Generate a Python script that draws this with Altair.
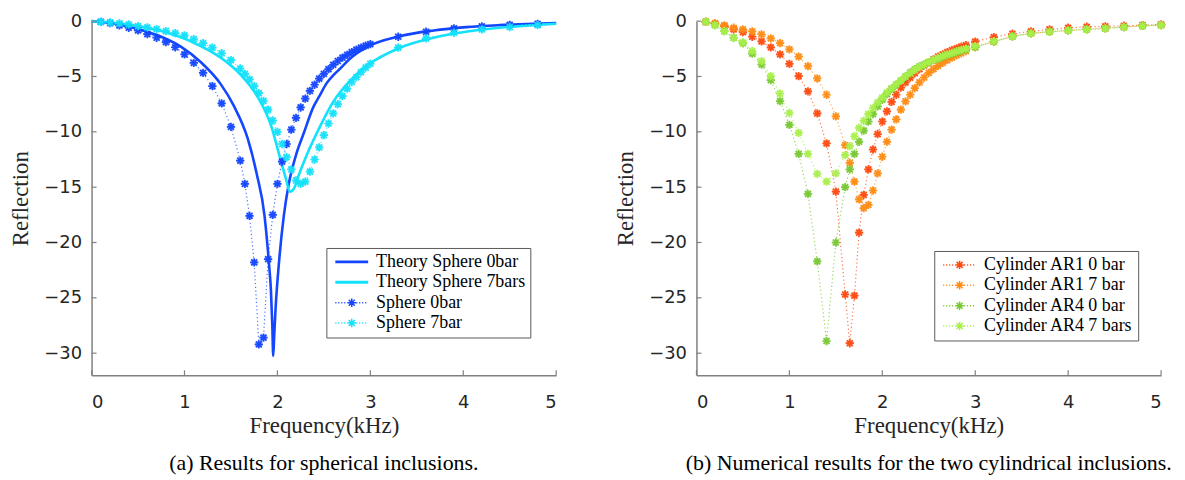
import altair as alt
import pandas as pd
import numpy as np

# ---------------- Left panel data (spherical inclusions) ----------------
theory0_f = [0.0, 0.25, 0.5, 0.75, 0.96, 1.18, 1.39, 1.53, 1.68, 1.78, 1.86, 1.91, 1.93, 1.945,
             1.955, 1.965, 1.98, 2.02, 2.07, 2.12, 2.2, 2.28, 2.39, 2.45, 2.53, 2.6, 2.68, 2.78, 2.96,
             3.32, 3.68, 4.03, 4.39, 4.75, 5.0]
theory0_r = [0.0, -0.24, -0.7, -1.41, -2.3, -3.74, -5.69, -7.64, -10.6, -13.9, -17.5, -22.0, -24.3, -27.5,
             -30.25, -28.5, -26.0, -21.5, -17.5, -14.8, -12.1, -10.2, -7.7, -6.8, -5.6, -4.9, -4.25, -3.4, -2.35,
             -1.35, -0.84, -0.54, -0.36, -0.24, -0.18]

theory7_f = [0.0, 0.43, 0.75, 1.1, 1.39, 1.6, 1.78, 1.93, 2.03, 2.09, 2.134, 2.18, 2.23, 2.32,
             2.43, 2.6, 2.78, 2.96, 3.32, 3.68, 4.03, 4.39, 4.75, 5.0]
theory7_r = [0.0, -0.36, -0.9, -1.95, -3.3, -4.8, -6.74, -9.4, -12.4, -14.2, -15.4, -15.1, -13.9, -12.0,
             -10.0, -7.3, -5.4, -4.04, -2.4, -1.5, -0.96, -0.6, -0.36, -0.24]

sphere_f = [0.1, 0.2, 0.3, 0.4, 0.5, 0.6, 0.7, 0.8, 0.9, 1.0, 1.1, 1.2, 1.3, 1.4, 1.5, 1.6,
            1.65, 1.7, 1.75, 1.8, 1.85, 1.9, 1.95, 2.0, 2.05, 2.1, 2.15, 2.2, 2.25, 2.3, 2.35, 2.4,
            2.45, 2.5, 2.55, 2.6, 2.65, 2.7, 2.75, 2.8, 2.85, 2.9, 2.95, 3.0,
            3.3, 3.6, 3.9, 4.2, 4.5, 4.8]
sphere0_r = [-0.06, -0.18, -0.39, -0.6, -0.84, -1.17, -1.5, -1.89, -2.36, -3.0, -3.77, -4.67, -5.87, -7.43, -9.55, -12.6,
             -14.7, -17.6, -21.8, -29.2, -28.6, -21.5, -17.5, -14.7, -12.7, -11.1, -9.8, -8.74, -7.8, -7.0, -6.3, -5.75,
             -5.2, -4.76, -4.34, -3.95, -3.6, -3.3, -3.05, -2.8, -2.58, -2.4, -2.22, -2.08,
             -1.41, -0.96, -0.66, -0.48, -0.33, -0.24]
sphere7_r = [-0.06, -0.12, -0.21, -0.3, -0.45, -0.57, -0.72, -0.9, -1.08, -1.29, -1.62, -1.98, -2.4, -2.9, -3.53, -4.28,
             -4.76, -5.27, -5.87, -6.5, -7.2, -8.0, -8.98, -10.0, -11.1, -12.3, -13.4, -14.4, -14.7, -14.5, -13.6, -12.5,
             -11.4, -10.3, -9.25, -8.33, -7.49, -6.77, -6.1, -5.5, -5.06, -4.6, -4.2, -3.85,
             -2.4, -1.56, -1.05, -0.75, -0.54, -0.36]

left_names = ["Theory Sphere 0bar", "Theory Sphere 7bars", "Sphere 0bar", "Sphere 7bar"]
left_colors = ["#1446ff", "#14e1fa", "#1446ff", "#14e1fa"]

# ---------------- Right panel data (cylindrical inclusions) ----------------
cyl_f = [0.1, 0.2, 0.3, 0.4, 0.5, 0.6, 0.7, 0.8, 0.9, 1.0, 1.1, 1.2, 1.3, 1.4, 1.5, 1.6,
         1.65, 1.7, 1.75, 1.8, 1.85, 1.9, 1.95, 2.0, 2.05, 2.1, 2.15, 2.2, 2.25, 2.3, 2.35, 2.4,
         2.45, 2.5, 2.55, 2.6, 2.65, 2.7, 2.75, 2.8, 2.85, 2.9, 3.0,
         3.2, 3.4, 3.6, 3.8, 4.0, 4.2, 4.4, 4.6, 4.8, 5.0]
ar1_0_r = [-0.06, -0.24, -0.45, -0.75, -0.99, -1.41, -1.83, -2.37, -3.0, -3.86, -4.97, -6.35, -8.33, -11.05, -15.4, -24.7,
           -29.1, -24.8, -19.1, -15.7, -13.4, -11.6, -10.2, -9.07, -8.15, -7.3, -6.65, -6.0, -5.54, -5.1, -4.7, -4.34,
           -4.0, -3.72, -3.45, -3.2, -3.0, -2.8, -2.62, -2.46, -2.3, -2.16, -1.85,
           -1.44, -1.14, -0.93, -0.75, -0.6, -0.51, -0.48, -0.42, -0.36, -0.3]
ar1_7_r = [-0.06, -0.18, -0.38, -0.6, -0.75, -0.93, -1.2, -1.56, -1.98, -2.55, -3.2, -4.07, -5.18, -6.65, -8.6, -11.2,
           -12.8, -14.5, -16.1, -16.9, -16.6, -15.3, -13.75, -12.25, -10.9, -9.8, -8.87, -8.0, -7.25, -6.65, -6.06, -5.54,
           -5.09, -4.67, -4.34, -4.04, -3.77, -3.53, -3.3, -3.08, -2.9, -2.7, -2.34,
           -1.86, -1.38, -1.11, -0.96, -0.84, -0.72, -0.63, -0.54, -0.42, -0.36]
ar4_0_r = [-0.06, -0.36, -0.9, -1.5, -2.0, -2.93, -3.92, -5.33, -7.22, -9.37, -12.0, -15.6, -21.7, -28.9, -20.0, -15.0,
           -13.4, -12.0, -10.9, -9.9, -9.07, -8.4, -7.7, -7.1, -6.6, -6.15, -5.75, -5.4, -5.0, -4.64, -4.35, -4.1,
           -3.9, -3.7, -3.53, -3.38, -3.23, -3.08, -2.93, -2.8, -2.7, -2.55, -2.34,
           -1.86, -1.38, -1.11, -0.96, -0.84, -0.75, -0.66, -0.54, -0.42, -0.36]
ar4_7_r = [-0.06, -0.36, -0.9, -1.5, -1.92, -2.7, -3.62, -4.97, -6.56, -8.3, -10.1, -12.0, -13.8, -14.5, -13.75, -12.1,
           -11.3, -10.4, -9.64, -9.0, -8.4, -7.85, -7.35, -6.9, -6.45, -6.05, -5.7, -5.35, -5.0, -4.7, -4.42, -4.15,
           -3.92, -3.7, -3.5, -3.32, -3.15, -3.0, -2.86, -2.72, -2.6, -2.48, -2.25,
           -1.8, -1.38, -1.11, -0.96, -0.84, -0.75, -0.66, -0.54, -0.42, -0.36]

right_names = ["Cylinder AR1 0 bar", "Cylinder AR1 7 bar", "Cylinder AR4 0 bar", "Cylinder AR4 7 bars"]
right_colors = ["#ff4a0f", "#ff8c14", "#78c832", "#a8f04c"]

x_ticks = [0, 1, 2, 3, 4, 5]
y_ticks = [0, -5, -10, -15, -20, -25, -30]

# ---------------- marker / legend glyphs (styles) ----------------
ASTER = "M-1,0L1,0M0,-1L0,1M-0.72,-0.72L0.72,0.72M-0.72,0.72L0.72,-0.72"


def legend_line(dotted, star):
    # symbol unit = 5px ; line spans -1 .. 5.6 units (33px)
    x0, x1 = -1.0, 5.6
    parts = []
    if dotted:
        x = x0
        while x < x1 - 0.05:
            parts.append(f"M{x:.2f},0L{x + 0.22:.2f},0")
            x += 0.6
    else:
        parts.append(f"M{x0},-0.14L{x1},-0.14M{x0},0.14L{x1},0.14")
    if star:
        c, r, d = 2.3, 0.85, 0.6
        parts.append(f"M{c - r:.2f},0L{c + r:.2f},0M{c:.2f},{-r}L{c:.2f},{r}"
                     f"M{c - d:.2f},{-d}L{c + d:.2f},{d}M{c - d:.2f},{d}L{c + d:.2f},{-d}")
    return "".join(parts)


W, H = 467, 356


def panel(line_series, meas_series, names, colors, shapes, lx, ly, caption):
    xs = alt.Scale(domain=[0, 5], nice=False, zero=False)
    ys = alt.Scale(domain=[-32, 0], nice=False, zero=False)
    xax = alt.Axis(values=x_ticks, format="d", title="Frequency(kHz)")
    yax = alt.Axis(values=y_ticks, format="d", title="Reflection")

    def X(field):
        return alt.X(f"{field}:Q", scale=xs, axis=xax)

    def Y(field):
        return alt.Y(f"{field}:Q", scale=ys, axis=yax)

    cmap = dict(zip(names, colors))
    layers = []
    for n, f, r in line_series:
        df = pd.DataFrame({"f": f, "r": r})
        layers.append(alt.Chart(df).mark_line(strokeWidth=2.6, interpolate="monotone", color=cmap[n])
                      .encode(x=X("f"), y=Y("r")))
    for n, f, r in meas_series:
        df = pd.DataFrame({"f": f, "r": r})
        c = cmap[n]
        layers.append(alt.Chart(df).mark_line(strokeWidth=1.2, strokeDash=[1.2, 2.6], opacity=0.75, color=c)
                      .encode(x=X("f"), y=Y("r")))
        layers.append(alt.Chart(df).mark_circle(size=55, opacity=0.28, color=c)
                      .encode(x=X("f"), y=Y("r")))
        layers.append(alt.Chart(df).mark_point(shape=ASTER, size=70, filled=False, strokeWidth=1.7,
                                               opacity=0.95, color=c)
                      .encode(x=X("f"), y=Y("r")))

    # inward tick marks
    layers.append(alt.Chart(pd.DataFrame({"t": x_ticks})).mark_rule(color="#808080", strokeWidth=1.2)
                  .encode(x=X("t"), y=alt.value(H), y2=alt.value(H - 5)))
    layers.append(alt.Chart(pd.DataFrame({"t": y_ticks})).mark_rule(color="#808080", strokeWidth=1.2)
                  .encode(y=Y("t"), x=alt.value(0), x2=alt.value(5)))

    # legend layer (no visible marks: positions are null)
    leg = alt.Legend(orient="none", legendX=lx, legendY=ly, title=None,
                     symbolSize=100, symbolStrokeWidth=1.5, labelOffset=27, labelFont="Liberation Serif",
                     labelFontSize=18, labelColor="black", strokeColor="#5a5a5a",
                     fillColor="white", padding=5, rowPadding=2.5, labelLimit=400)
    ldf = pd.DataFrame({"series": names, "f": [np.nan] * len(names), "r": [np.nan] * len(names)})
    layers.append(alt.Chart(ldf).mark_point(filled=False, opacity=1, strokeWidth=1.5)
                  .encode(x=X("f"), y=Y("r"),
                          color=alt.Color("series:N", scale=alt.Scale(domain=names, range=colors), legend=leg),
                          shape=alt.Shape("series:N", scale=alt.Scale(domain=names, range=shapes), legend=leg)))

    return alt.layer(*layers).properties(
        width=W, height=H,
        title=alt.TitleParams(caption, orient="bottom", anchor="middle", font="Liberation Serif",
                              fontSize=22, fontWeight="normal", color="black", offset=16))


left = panel(
    [(left_names[0], theory0_f, theory0_r), (left_names[1], theory7_f, theory7_r)],
    [(left_names[2], sphere_f, sphere0_r), (left_names[3], sphere_f, sphere7_r)],
    left_names, left_colors,
    [legend_line(False, False), legend_line(False, False), legend_line(True, True), legend_line(True, True)],
    236, 228, "(a) Results for spherical inclusions.")

right = panel(
    [],
    [(right_names[0], cyl_f, ar1_0_r), (right_names[1], cyl_f, ar1_7_r),
     (right_names[2], cyl_f, ar4_0_r), (right_names[3], cyl_f, ar4_7_r)],
    right_names, right_colors,
    [legend_line(True, True)] * 4,
    239, 231, "(b) Numerical results for the two cylindrical inclusions.")

chart = alt.hconcat(left, right, spacing=53).resolve_scale(
    color="independent", shape="independent"
).resolve_legend(color="independent", shape="independent").properties(
    padding={"left": 2, "top": 3, "right": 5, "bottom": 2}
).configure_view(stroke=None).configure_axis(
    grid=False, ticks=False, domainColor="#808080", domainWidth=1.5,
    labelFont="DejaVu Sans", labelFontSize=18, labelColor="#262626",
    titleFont="Liberation Serif", titleFontSize=23, titleFontWeight="normal", titleColor="#262626"
).configure_axisX(labelPadding=18, titlePadding=3).configure_axisY(labelPadding=10, titlePadding=11)

chart.save("out.html", embed_options={"renderer": "svg", "actions": False})
